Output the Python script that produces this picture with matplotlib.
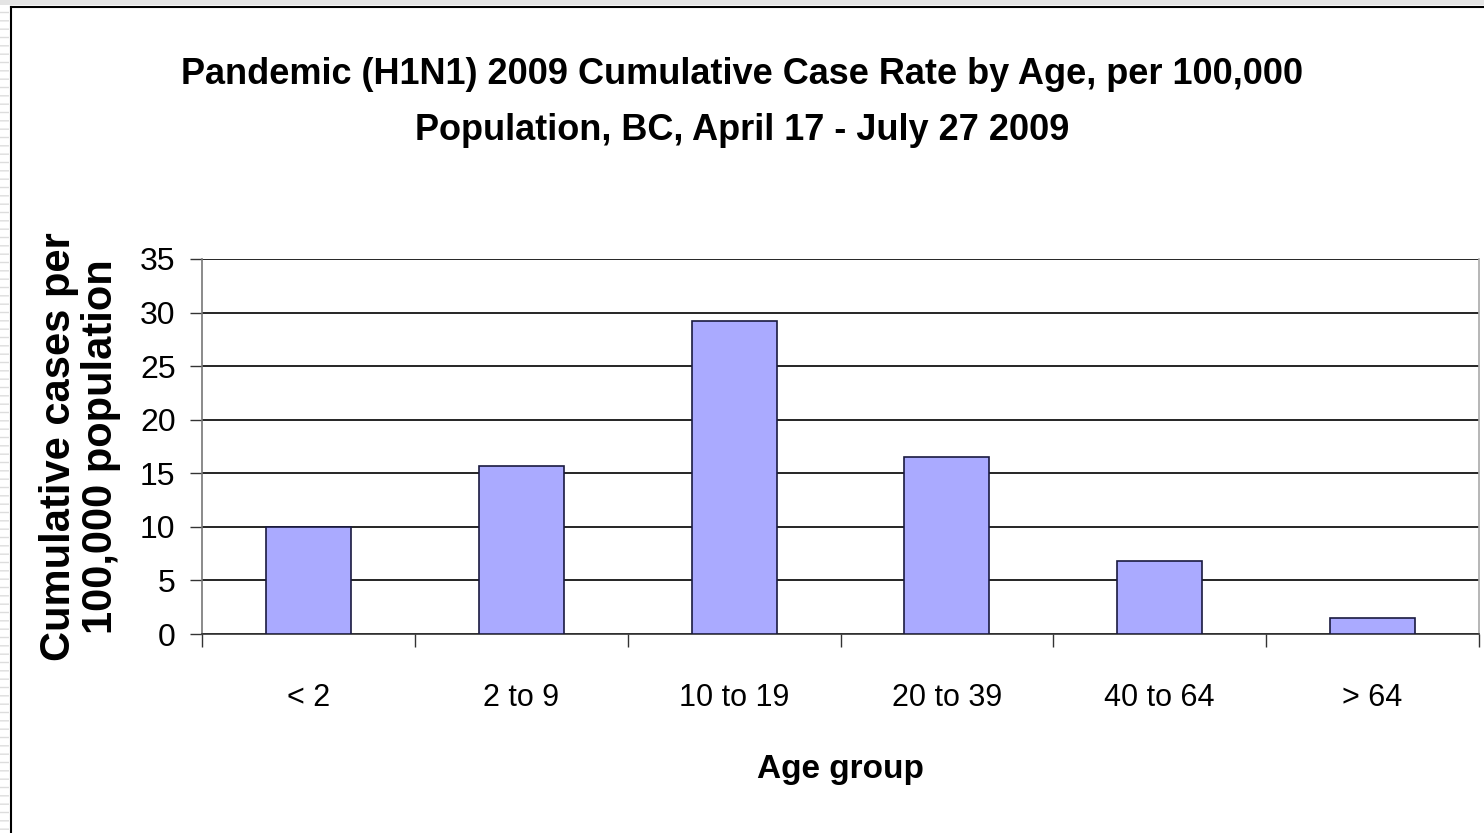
"""
Pandemic (H1N1) 2009 cumulative case rate by age group, BC
"""
import matplotlib
matplotlib.use('Agg')
import matplotlib.pyplot as plt
from matplotlib.lines import Line2D
from matplotlib.patches import Rectangle

# data
age_groups = ['< 2', '2 to 9', '10 to 19', '20 to 39', '40 to 64', '> 64']
case_rates = [10.0, 15.7, 29.2, 16.5, 6.8, 1.45]
y_ticks = [0, 5, 10, 15, 20, 25, 30, 35]
title_lines = ['Pandemic (H1N1) 2009 Cumulative Case Rate by Age, per 100,000',
               'Population, BC, April 17 - July 27 2009']

NARROW = ['Liberation Sans Narrow', 'Liberation Sans', 'DejaVu Sans']
plt.rcParams['font.family'] = ['Liberation Sans', 'DejaVu Sans']

W, H = 1484, 833
fig = plt.figure(figsize=(W / 100, H / 100), dpi=100)
ax = fig.add_axes([202 / W, 1 - 634 / H, (1479 - 202) / W, (634 - 259) / H])

x = list(range(len(age_groups)))
ax.bar(x, case_rates, width=0.4, color='#aaaaff', edgecolor='#1a1a40',
       linewidth=1.2, zorder=3)

ax.set_xlim(-0.5, len(age_groups) - 0.5)
ax.set_ylim(0, 35)
ax.set_yticks(y_ticks)
ax.set_yticklabels([str(v) for v in y_ticks], family=NARROW, fontsize=23)
ax.set_xticks(x)
ax.set_xticklabels(age_groups, family=NARROW, fontsize=22)
ax.set_xticks([i - 0.5 for i in range(len(age_groups) + 1)], minor=True)
ax.tick_params(axis='x', which='major', length=0, pad=35)
ax.tick_params(axis='x', which='minor', length=9.5, width=1, color='#333333')
ax.tick_params(axis='y', length=9, width=1, pad=10, color='#333333')

ax.yaxis.grid(True, color='black', linewidth=1.2, zorder=0)
ax.set_axisbelow(True)
ax.spines['top'].set_visible(False)
ax.spines['left'].set_color('#777777')
ax.spines['right'].set_color('#aaaaaa')
ax.spines['bottom'].set_color('#333333')
for s in ax.spines.values():
    s.set_linewidth(1.2)

ax.set_xlabel('Age group', fontsize=24, fontweight='bold', family=NARROW,
              labelpad=30)
ax.set_ylabel('Cumulative cases per\n100,000 population', fontsize=30,
              fontweight='bold', linespacing=1.05, labelpad=14)

# title, one line at a time
fig.text(742 / W, 1 - 75 / H, title_lines[0], ha='center', va='center',
         fontsize=26, fontweight='bold', family=NARROW)
fig.text(742 / W, 1 - 130 / H, title_lines[1], ha='center', va='center',
         fontsize=26, fontweight='bold', family=NARROW)

# chart frame (top and left edges visible) and the grey strip outside it
fig.add_artist(Rectangle((0, 0), 9 / W, 1, transform=fig.transFigure,
                         facecolor='white', edgecolor='#dddddd', hatch='--',
                         linewidth=0))
fig.add_artist(Rectangle((0, 1 - 5 / H), 1, 5 / H, transform=fig.transFigure,
                         facecolor='#e4e4e4', linewidth=0))
fig.add_artist(Line2D([10.5 / W, 10.5 / W], [0, 1 - 6.5 / H],
                      transform=fig.transFigure, color='black', linewidth=1.5))
fig.add_artist(Line2D([10.5 / W, 1], [1 - 6.5 / H, 1 - 6.5 / H],
                      transform=fig.transFigure, color='black', linewidth=1.5))

fig.savefig('out.png', dpi=100)
plt.close(fig)
